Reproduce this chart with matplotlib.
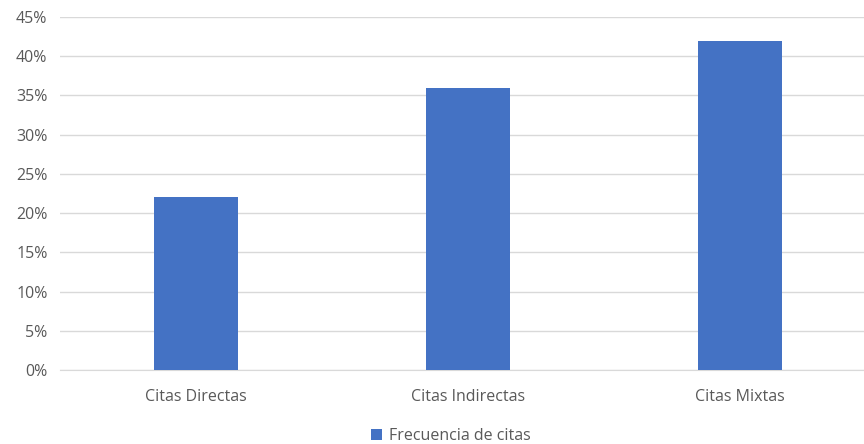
import matplotlib.pyplot as plt
from matplotlib.ticker import PercentFormatter

categorias = ['Citas Directas', 'Citas Indirectas', 'Citas Mixtas']
frecuencia = [22, 36, 42]
ticks_y = [0, 5, 10, 15, 20, 25, 30, 35, 40, 45]

plt.rcParams['font.family'] = ['Open Sans', 'DejaVu Sans']

fig = plt.figure(figsize=(8.64, 4.44), dpi=100)
ax = fig.add_axes([60/864, 1-370/444, 816/864, 353/444])

x = range(len(categorias))
ax.bar(x, frecuencia, width=0.31, color='#4472C4', zorder=3, label='Frecuencia de citas')

ax.set_xlim(-0.5, 2.5)
ax.set_ylim(0, 45)
ax.set_yticks(ticks_y)
ax.yaxis.set_major_formatter(PercentFormatter(decimals=0))
ax.set_xticks(list(x))
ax.set_xticklabels(categorias)
ax.grid(axis='y', color='#D9D9D9', linewidth=1, zorder=0)
for s in ['top', 'right', 'left']:
    ax.spines[s].set_visible(False)
ax.spines['bottom'].set_color('#D9D9D9')
ax.tick_params(axis='both', length=0, colors='#595959', labelsize=11.5)
ax.tick_params(axis='x', pad=14)
ax.tick_params(axis='y', pad=9)

fig.legend(loc='center', bbox_to_anchor=(0.522, 1-436/444), frameon=False,
           fontsize=11.5, handlelength=0.65, handleheight=0.65, handletextpad=0.45,
           labelcolor='#595959')

fig.savefig('out.png', dpi=100)
